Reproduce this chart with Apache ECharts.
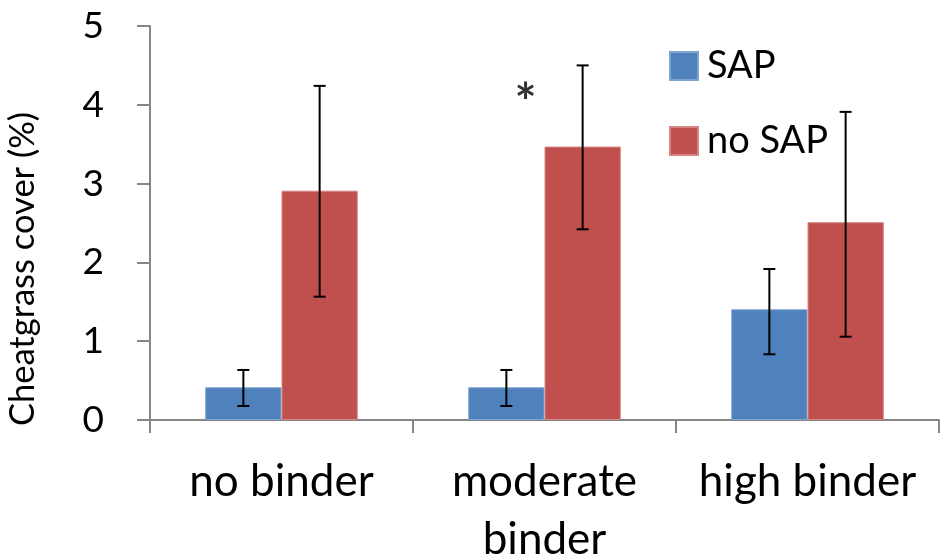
<!DOCTYPE html>
<html><head><meta charset="utf-8">
<script src="https://cdn.jsdelivr.net/npm/echarts@6/dist/echarts.min.js"></script>
<style>html,body{margin:0;padding:0;background:#fff}#c{width:946px;height:560px}</style>
</head><body><div id="c"></div>
<script>
const categories = ['no binder', 'moderate\nbinder', 'high binder'];
const sapValues = [0.415, 0.415, 1.405];
const sapLow = [0.178, 0.178, 0.834];
const sapHigh = [0.635, 0.635, 1.916];
const noSapValues = [2.91, 3.47, 2.51];
const noSapLow = [1.565, 2.42, 1.057];
const noSapHigh = [4.24, 4.50, 3.91];
const yTicks = [0, 1, 2, 3, 4, 5];
const starCategory = 'moderate\nbinder';
const starValue = 4.16;

const FONT = 'Lato';
const BAR_FRAC = 0.29;

function errData(low, high) {
  return categories.map((c, i) => [i, low[i], high[i]]);
}
function errSeries(name, low, high, side) {
  return {
    type: 'custom', name: name + ' err', silent: true, z: 10,
    renderItem: function (params, api) {
      const band = api.size([1, 0])[0];
      const off = side * band * BAR_FRAC / 2;
      const p1 = api.coord([api.value(0), api.value(1)]);
      const p2 = api.coord([api.value(0), api.value(2)]);
      const x = p1[0] + off;
      const cw = 6;
      const st = { stroke: '#000', lineWidth: 2 };
      return { type: 'group', children: [
        { type: 'line', shape: { x1: x, y1: p1[1], x2: x, y2: p2[1] }, style: st },
        { type: 'line', shape: { x1: x - cw, y1: p1[1], x2: x + cw, y2: p1[1] }, style: st },
        { type: 'line', shape: { x1: x - cw, y1: p2[1], x2: x + cw, y2: p2[1] }, style: st }
      ]};
    },
    encode: { x: 0, y: [1, 2] },
    data: errData(low, high)
  };
}

const chart = echarts.init(document.getElementById('c'), null, { renderer: 'canvas' });
chart.setOption({
  animation: false,
  textStyle: { fontFamily: FONT },
  grid: { left: 150, right: 7, top: 26, bottom: 140, containLabel: false, outerBoundsMode: 'none' },
  legend: {
    orient: 'vertical', left: 664, top: 42, itemWidth: 28, itemHeight: 28, itemGap: 37,
    icon: 'rect', data: ['SAP', 'no SAP'],
    textStyle: { fontFamily: FONT, fontSize: 38, color: '#000', padding: [0, 0, 0, 4] }
  },
  xAxis: {
    type: 'category', data: categories,
    axisLine: { lineStyle: { color: '#868686', width: 2 } },
    axisTick: { show: true, length: 13, lineStyle: { color: '#868686', width: 2 } },
    axisLabel: { color: '#000', fontSize: 44, fontFamily: FONT, margin: 33, lineHeight: 58, interval: 0 }
  },
  yAxis: {
    type: 'value', min: 0, max: 5, interval: 1,
    name: 'Cheatgrass cover (%)', nameLocation: 'middle', nameGap: 110, nameRotate: 90,
    nameTextStyle: { color: '#000', fontSize: 34.5, fontFamily: FONT, padding: [0, 92, 0, 0] },
    axisLine: { show: true, lineStyle: { color: '#868686', width: 2 } },
    axisTick: { show: true, length: 13, lineStyle: { color: '#868686', width: 2 } },
    splitLine: { show: false },
    axisLabel: { color: '#000', fontSize: 37, fontFamily: FONT, margin: 46,
      formatter: v => yTicks.includes(v) ? String(v) : '' }
  },
  series: [
    { name: 'SAP', type: 'bar', data: sapValues, barWidth: (BAR_FRAC * 100) + '%', barGap: '0%',
      itemStyle: { color: '#4F81BD', borderColor: '#7FA3D0', borderWidth: 1 } },
    { name: 'no SAP', type: 'bar', data: noSapValues, barWidth: (BAR_FRAC * 100) + '%', barGap: '0%',
      itemStyle: { color: '#C0504D', borderColor: '#D58583', borderWidth: 1 } },
    errSeries('SAP', sapLow, sapHigh, -1),
    errSeries('no SAP', noSapLow, noSapHigh, 1),
    { type: 'scatter', name: 'star', symbolSize: 0, silent: true, z: 11,
      data: [[starCategory, starValue]],
      label: { show: true, position: 'inside', formatter: '*', offset: [-19, 12],
        color: '#000', fontSize: 52, fontFamily: FONT, fontWeight: 'bold' } }
  ]
});
</script></body></html>
